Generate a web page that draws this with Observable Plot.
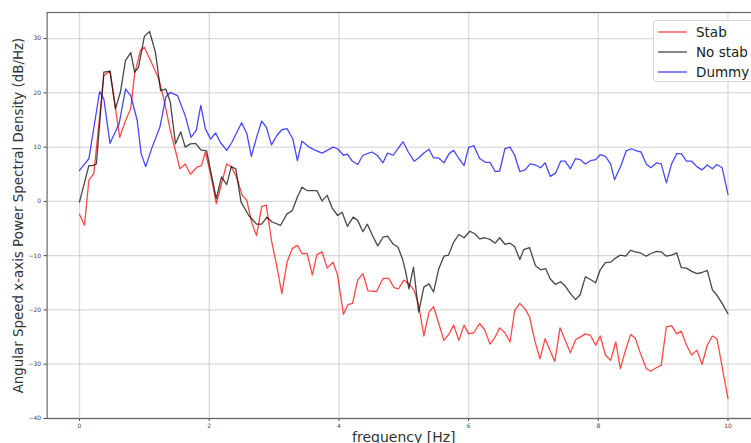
<!DOCTYPE html>
<html>
<head>
<meta charset="utf-8">
<script src="https://cdn.jsdelivr.net/npm/d3@7"></script>
<script src="https://cdn.jsdelivr.net/npm/@observablehq/plot@0.6"></script>
<style>
  html, body { margin: 0; padding: 0; background: #fff; overflow: hidden; width: 751px; height: 443px; }
  #wrap { position: relative; width: 751px; height: 443px; overflow: hidden; }
  #wrap > svg { max-width: none !important; width: 770px !important; height: 455px !important; display: block; }
  #legend { position: absolute; left: 653px; top: 20px; width: 120px; height: 62px;
    border: 1px solid #d6d6d6; border-radius: 3px; background: rgba(255,255,255,0.85);
    font-family: "DejaVu Sans", sans-serif; font-size: 13.5px; color: #222; box-sizing: border-box; }
  .item { position: absolute; left: 3px; height: 20px; display: flex; align-items: center; }
  .item svg { margin-right: 8px; }
</style>
</head>
<body>
<div id="wrap"><div id="legend"></div></div>
<script>
const seriesNames = ["Stab", "No stab", "Dummy"];
const seriesColors = ["#ff0000", "#000000", "#0000ff"];
const xTicks = [0, 2, 4, 6, 8, 10];
const yTicks = [-40, -30, -20, -10, 0, 10, 20, 30];
const xLabel = "frequency [Hz]";
const yLabel = "Angular Speed x-axis Power Spectral Density (dB/Hz)";

const stabFreq = [0,0.077,0.144,0.22,0.375,0.47,0.62,0.71,0.79,0.85,0.94,1.0,1.12,1.22,1.30,1.40,1.55,1.63,1.71,1.81,1.88,1.94,2.02,2.11,2.19,2.27,2.34,2.42,2.51,2.58,2.66,2.73,2.81,2.88,2.96,3.04,3.12,3.20,3.28,3.36,3.43,3.51,3.59,3.66,3.74,3.82,3.91,3.98,4.07,4.14,4.21,4.29,4.37,4.45,4.58,4.68,4.77,4.85,4.92,5.00,5.08,5.16,5.23,5.31,5.39,5.46,5.54,5.62,5.70,5.77,5.85,5.93,6.00,6.08,6.17,6.25,6.33,6.41,6.48,6.56,6.64,6.71,6.79,6.87,6.94,7.02,7.10,7.18,7.26,7.33,7.41,7.49,7.57,7.65,7.72,7.80,7.88,7.96,8.03,8.11,8.19,8.27,8.34,8.42,8.50,8.57,8.65,8.74,8.81,8.90,8.97,9.05,9.13,9.21,9.28,9.36,9.44,9.52,9.60,9.68,9.76,9.83,9.91,10.0];
const stabDb = [-2.4,-4.4,3.9,5.1,23.2,24.0,11.8,14.9,17.1,23.5,27.8,28.4,25.3,22.6,18.9,13.1,6.0,6.9,5.0,6.3,6.6,9.1,5.1,-0.4,3.3,6.9,6.4,4.5,1.1,0.2,-4.1,-6.3,-0.9,-0.7,-7.2,-11.8,-17.0,-11.2,-8.7,-8.1,-9.6,-9.6,-13.6,-9.8,-9.3,-12.3,-11.2,-13.6,-20.8,-19.0,-18.8,-14.5,-13.3,-16.5,-16.6,-14.2,-14.2,-15.9,-16.1,-14.5,-15.2,-16.4,-19.1,-24.8,-20.4,-19.4,-22.5,-25.6,-24.4,-22.8,-25.6,-22.8,-24.4,-24.2,-22.5,-23.7,-26.3,-25.0,-23.3,-24.2,-25.9,-20.1,-18.8,-19.8,-21.3,-25.6,-29.0,-25.3,-27.6,-29.5,-23.3,-25.6,-27.9,-25.5,-25.0,-24.4,-24.7,-26.5,-24.8,-28.3,-29.3,-25.9,-30.8,-27.4,-24.5,-25.2,-28.0,-30.8,-31.3,-30.6,-30.2,-23.1,-22.9,-24.4,-23.9,-26.5,-28.3,-27.4,-30.0,-26.5,-24.8,-25.3,-30.5,-36.3];

const noStabFreq = [0,0.144,0.21,0.26,0.375,0.47,0.555,0.63,0.71,0.79,0.85,0.91,1.0,1.08,1.17,1.25,1.33,1.40,1.48,1.56,1.63,1.71,1.79,1.87,1.96,2.03,2.11,2.19,2.27,2.34,2.41,2.49,2.61,2.73,2.81,2.89,2.97,3.10,3.20,3.28,3.36,3.43,3.51,3.66,3.74,3.82,3.90,3.98,4.05,4.13,4.22,4.29,4.37,4.44,4.53,4.60,4.68,4.75,4.84,4.91,4.98,5.03,5.08,5.15,5.23,5.31,5.39,5.46,5.54,5.62,5.69,5.77,5.85,5.93,6.02,6.10,6.17,6.25,6.33,6.41,6.48,6.56,6.64,6.71,6.79,6.85,6.94,7.03,7.11,7.19,7.26,7.34,7.42,7.49,7.57,7.65,7.72,7.80,7.88,7.96,8.03,8.11,8.19,8.27,8.34,8.42,8.50,8.57,8.65,8.74,8.81,8.90,8.97,9.05,9.13,9.21,9.28,9.36,9.44,9.52,9.60,9.68,9.76,9.83,9.91,10.0];
const noStabDb = [-0.1,6.6,6.6,6.9,23.8,24.0,17.1,20.1,26.0,27.4,23.8,24.7,30.4,31.3,27.5,20.4,20.7,18.3,10.6,12.8,10.0,10.6,10.7,9.5,9.3,5.1,0.5,4.5,3.1,6.4,6.0,-0.1,-2.6,-4.2,-4.2,-2.9,-3.8,-4.4,-2.3,-1.7,0.8,2.6,2.0,2.0,0.1,1.1,-1.3,-2.6,-2.0,-4.6,-2.9,-3.5,-5.6,-4.2,-6.6,-8.2,-6.6,-6.4,-7.9,-8.4,-10.6,-13.0,-16.1,-12.1,-20.4,-15.8,-15.2,-16.7,-12.4,-10.1,-9.9,-7.5,-6.1,-6.7,-5.5,-6.0,-6.9,-6.7,-7.0,-7.7,-6.7,-7.9,-7.7,-8.3,-10.7,-8.9,-8.5,-11.8,-12.6,-12.4,-14.3,-15.3,-14.8,-15.6,-17.0,-18.1,-17.2,-13.9,-14.4,-15.0,-12.6,-11.3,-11.2,-10.4,-9.9,-10.1,-9.0,-9.3,-9.5,-10.1,-9.6,-9.2,-9.3,-10.1,-9.9,-9.5,-12.2,-12.3,-12.9,-13.3,-13.1,-12.7,-16.3,-17.3,-18.8,-20.7];

const dummyFreq = [0,0.144,0.31,0.375,0.47,0.61,0.71,0.79,0.89,0.95,1.02,1.12,1.24,1.33,1.40,1.51,1.63,1.72,1.80,1.87,1.94,2.02,2.10,2.17,2.27,2.35,2.50,2.58,2.65,2.73,2.81,2.88,2.96,3.04,3.12,3.20,3.29,3.36,3.43,3.54,3.64,3.74,3.82,3.91,3.98,4.07,4.13,4.20,4.29,4.37,4.44,4.51,4.59,4.68,4.75,4.84,4.91,4.99,5.07,5.16,5.23,5.31,5.39,5.46,5.54,5.62,5.70,5.77,5.85,5.93,6.00,6.08,6.17,6.26,6.33,6.41,6.48,6.56,6.64,6.71,6.79,6.87,6.95,7.03,7.11,7.18,7.26,7.34,7.42,7.49,7.57,7.65,7.72,7.80,7.88,7.96,8.03,8.11,8.19,8.25,8.35,8.43,8.51,8.59,8.66,8.74,8.81,8.90,8.97,9.05,9.13,9.21,9.28,9.36,9.44,9.52,9.60,9.68,9.76,9.83,9.91,10.0];
const dummyDb = [5.7,7.85,20.2,18.9,10.7,14.3,20.7,19.5,14.9,8.8,6.4,10.0,13.7,19.2,20.1,19.5,15.8,11.8,13.1,17.7,13.4,11.5,12.6,10.9,9.4,10.9,14.5,12.5,8.3,11.8,14.8,13.7,10.4,12.1,13.2,13.4,11.5,7.5,11.1,10.0,9.4,8.9,9.4,10.0,9.7,8.5,8.7,7.5,6.8,8.5,8.8,9.1,8.5,7.1,8.9,8.5,9.7,11.0,9.1,7.4,8.0,8.9,9.6,8.0,8.0,7.1,8.8,9.4,7.9,6.6,9.9,10.3,7.9,7.2,7.2,5.5,5.6,9.7,10.0,8.5,5.5,5.8,6.9,6.7,6.2,7.1,4.6,5.2,7.4,7.4,6.0,7.9,7.7,6.9,7.5,7.7,8.6,8.3,6.9,4.0,6.6,9.3,9.7,9.3,9.1,6.9,6.2,7.1,6.9,3.4,6.9,8.8,8.8,7.4,7.4,6.4,5.8,6.7,6.0,6.8,6.2,1.3];

const series = [
  {freq: stabFreq, db: stabDb},
  {freq: noStabFreq, db: noStabDb},
  {freq: dummyFreq, db: dummyDb}
];
const rows = series.flatMap((s, k) => s.freq.map((f, i) => ({name: seriesNames[k], f, v: s.db[i]})));

const chart = Plot.plot({
  width: 770,
  height: 455,
  marginLeft: 46.6,
  marginRight: 10.1,
  marginTop: 12,
  marginBottom: 37,
  style: {fontFamily: "DejaVu Sans, sans-serif", background: "white", overflow: "visible"},
  x: {domain: [-0.5, 10.5]},
  y: {domain: [-40, 34.8]},
  color: {domain: seriesNames, range: seriesColors},
  marks: [
    Plot.gridX(xTicks, {stroke: "#b0b0b0", strokeOpacity: 0.45, strokeWidth: 1.3}),
    Plot.gridY(yTicks, {stroke: "#b0b0b0", strokeOpacity: 0.45, strokeWidth: 1.3}),
    Plot.axisX(xTicks, {tickSize: 3, tickPadding: 2, fontSize: 6, label: null, color: "#444"}),
    Plot.axisY(yTicks, {tickSize: 3, tickPadding: 3, fontSize: 6, label: null, color: "#444"}),
    Plot.frame({stroke: "#666", strokeWidth: 1.2}),
    Plot.line(rows, {x: "f", y: "v", z: "name", stroke: "name", strokeOpacity: 0.72, strokeWidth: 1.3}),
    Plot.text([xLabel], {frameAnchor: "bottom", dy: 23, fontSize: 14, fill: "#333"}),
    Plot.text([yLabel], {frameAnchor: "left", textAnchor: "middle", dx: -28.6, rotate: -90, fontSize: 13.4, fill: "#333"})
  ]
});
document.getElementById("wrap").prepend(chart);

const legend = document.getElementById("legend");
seriesNames.forEach((n, i) => {
  const d = document.createElement("div");
  d.className = "item";
  d.style.top = (1 + i * 20) + "px";
  d.innerHTML = `<svg width="31" height="4"><line x1="1" x2="30" y1="2" y2="2" stroke="${seriesColors[i]}" stroke-opacity="0.6" stroke-width="1.6"/></svg><span>${n}</span>`;
  legend.appendChild(d);
});
</script>
</body>
</html>
